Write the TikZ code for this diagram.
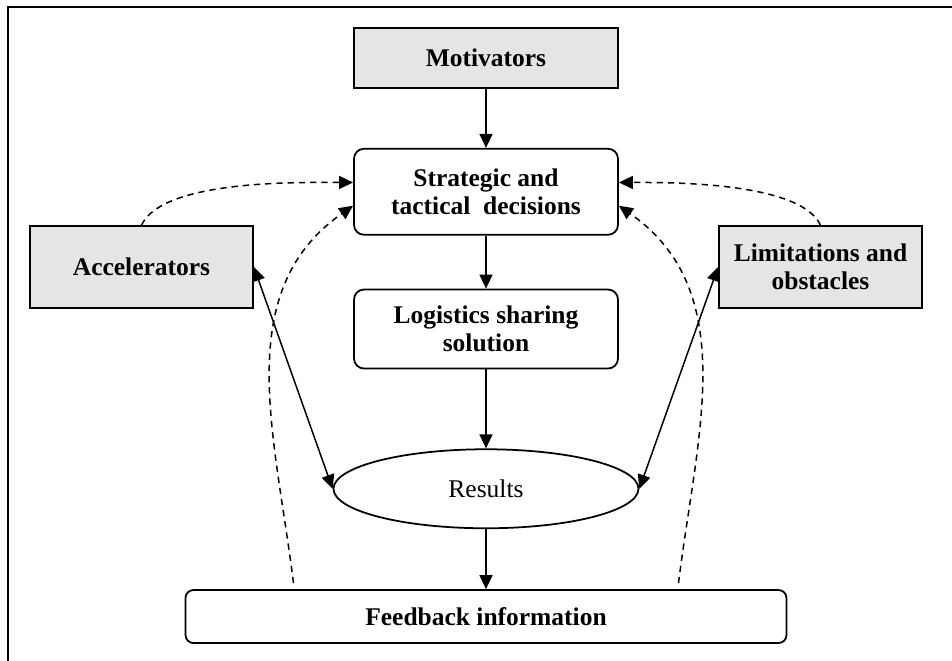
\documentclass[tikz,border=0pt]{standalone}
\usepackage{fontspec}
\setmainfont{Liberation Serif}
\usepackage{tikz}
\usetikzlibrary{arrows.meta}
\usetikzlibrary{graphs}
\usetikzlibrary{shapes.geometric,positioning}
\newcommand{\figfont}{\fontsize{14.5}{16}\selectfont}
\tikzstyle{arrow}=[-{Triangle[length=0.28cm,width=0.26cm]}, line width=0.85pt]
\tikzstyle{dblarrow}=[{Triangle[length=0.28cm,width=0.26cm]}-{Triangle[length=0.28cm,width=0.26cm]}, line width=0.85pt]
\tikzstyle{dasharrow}=[arrow, dash pattern=on 3.6pt off 2.8pt]
\tikzstyle{factorbox}=[draw, fill=black!10, line width=1pt, inner sep=0pt, font=\figfont\bfseries, align=center]
\tikzstyle{stepbox}=[draw, rounded corners=0.2cm, line width=1pt, inner sep=0pt, font=\figfont\bfseries, align=center, minimum width=5.28cm]

\begin{document}
\begin{tikzpicture}[new set=import nodes, >={Triangle[length=0.28cm,width=0.26cm]}]
 \useasboundingbox (0,0) rectangle (19.04,-13.22);
 \draw[line width=1.1pt] (0.16,-13.3) |- (19.1,-0.14);
 \begin{scope}[nodes={set=import nodes}]
   \node (mot)[factorbox, minimum width=5.28cm, minimum height=1.2cm] at (9.72,-1.16) {Motivators};
   \node (strat)[stepbox, below=1.18cm of mot, minimum height=1.72cm] {Strategic and\\tactical\ \ decisions};
   \node (logi)[stepbox, below=1.06cm of strat, minimum height=1.58cm] {Logistics sharing\\solution};
   \node (res)[ellipse, draw, line width=1pt, inner sep=0pt, below=1.58cm of logi, minimum width=6.1cm, minimum height=1.58cm, font=\figfont] {Results};
   \node (feed)[stepbox, rounded corners=0.16cm, below=1.2cm of res, minimum width=12.02cm, minimum height=1.06cm] {Feedback information};
   \node (acc)[factorbox, minimum width=4.46cm, minimum height=1.64cm] at (2.83,-5.34) {Accelerators};
   \node (lim)[factorbox, minimum width=4.06cm, minimum height=1.64cm] at (16.41,-5.34) {Limitations and\\obstacles};
 \end{scope}
 \coordinate (fbL) at ([xshift=-3.85cm,yshift=0.12cm]feed.north);
 \coordinate (fbR) at ([xshift=3.85cm,yshift=0.12cm]feed.north);

 \graph[edges={line width=0.85pt}] {
   (import nodes);
   mot -> strat -> logi -> res -> feed,
 };

 % side effects on results
 \draw[dblarrow] (acc.east) -- (res.west);
 \draw[dblarrow] (lim.west) -- (res.east);

 % feedback loops
 \draw[dasharrow] (acc.north) to[out=65, in=180, looseness=0.6] (strat.176);
 \draw[dasharrow] (lim.north) to[out=115, in=0, looseness=0.6] (strat.4);
 \draw[dasharrow] (fbL) to[out=97, in=215] (strat.186);
 \draw[dasharrow] (fbR) to[out=83, in=-35] (strat.354);
\end{tikzpicture}
\end{document}
